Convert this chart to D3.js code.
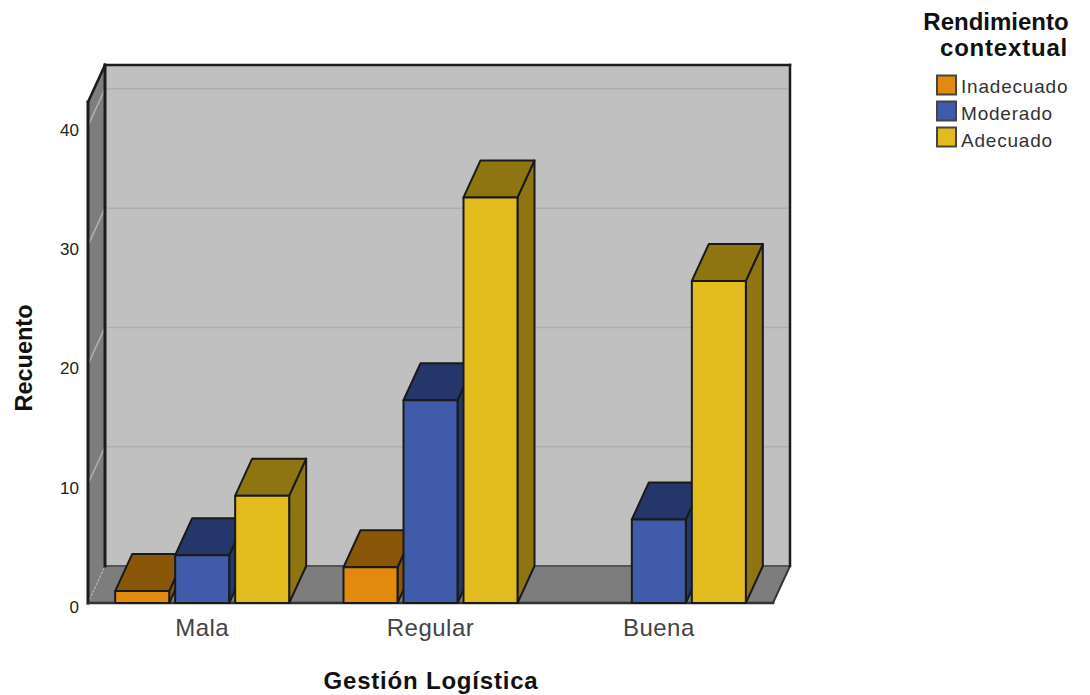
<!DOCTYPE html>
<html>
<head>
<meta charset="utf-8">
<script src="https://cdn.jsdelivr.net/npm/d3@7"></script>
<style>
  body { margin: 0; background: #fff; }
  text { font-family: "Liberation Sans", Arial, sans-serif; }
</style>
</head>
<body>
<svg id="chart" width="1090" height="695"></svg>
<script>
const categories = ["Mala", "Regular", "Buena"];
const seriesNames = ["Inadecuado", "Moderado", "Adecuado"];
const inadecuado = [1, 3, 0];
const moderado = [4, 17, 7];
const adecuado = [9, 34, 27];
const yTicks = [0, 10, 20, 30, 40];
const seriesValues = [inadecuado, moderado, adecuado];

const frontColors = ["#e28a0e", "#3f5ba9", "#e2bb1e"];
const darkColors = ["#8a5608", "#25366b", "#8e7512"];

const svg = d3.select("#chart");

// depth of the 3D box and of each bar
const wallDx = 17, wallDy = -37;
const barDx = 17, barDy = -37;

const x0 = d3.scaleBand().domain(categories).range([88, 773]);
const x1 = d3.scaleBand().domain(seriesNames).range([0, 174]).paddingInner(0.1);
const y = d3.scaleLinear().domain([0, 42]).range([603, 102]);

function poly(points, fill, stroke, width) {
  return svg.append("polygon")
    .attr("points", points.map(p => p.join(",")).join(" "))
    .attr("fill", fill)
    .attr("stroke", stroke || "none")
    .attr("stroke-width", width || 0)
    .attr("stroke-linejoin", "round");
}

const plotLeft = x0.range()[0], plotRight = x0.range()[1];
const plotBottom = y(0), plotTop = y.range()[1];

// walls and floor
poly([[plotLeft + wallDx, plotBottom + wallDy], [plotRight + wallDx, plotBottom + wallDy], [plotRight + wallDx, plotTop + wallDy], [plotLeft + wallDx, plotTop + wallDy]], "#c0c0c0");
poly([[plotLeft, plotBottom], [plotLeft + wallDx, plotBottom + wallDy], [plotLeft + wallDx, plotTop + wallDy], [plotLeft, plotTop]], "#7d7d7d");
poly([[plotLeft, plotBottom], [plotRight, plotBottom], [plotRight + wallDx, plotBottom + wallDy], [plotLeft + wallDx, plotBottom + wallDy]], "#7d7d7d");

// gridlines on the back wall and the left wall
yTicks.filter(t => t > 0).forEach(t => {
  svg.append("line")
    .attr("x1", plotLeft + wallDx).attr("x2", plotRight + wallDx)
    .attr("y1", y(t) + wallDy).attr("y2", y(t) + wallDy)
    .attr("stroke", "#aeaeae").attr("stroke-width", 1.5);
  svg.append("line")
    .attr("x1", plotLeft).attr("x2", plotLeft + wallDx)
    .attr("y1", y(t)).attr("y2", y(t) + wallDy)
    .attr("stroke", "#b0b0b0").attr("stroke-width", 1.5);
});
svg.append("line")
  .attr("x1", plotLeft).attr("x2", plotLeft + wallDx)
  .attr("y1", plotBottom).attr("y2", plotBottom + wallDy)
  .attr("stroke", "#b5b5b5").attr("stroke-width", 1.2).attr("stroke-dasharray", "2,2");

// box outline
function edgeLine(xa, ya, xb, yb, w, color) {
  svg.append("line")
    .attr("x1", xa).attr("y1", ya).attr("x2", xb).attr("y2", yb)
    .attr("stroke", color || "#1c1c1c").attr("stroke-width", w || 2.5).attr("stroke-linecap", "square");
}
edgeLine(plotLeft + wallDx, plotBottom + wallDy, plotRight + wallDx, plotBottom + wallDy, 2, "#555");
edgeLine(plotRight, plotBottom, plotRight + wallDx, plotBottom + wallDy, 2, "#333");
edgeLine(plotLeft + wallDx, plotTop + wallDy, plotRight + wallDx, plotTop + wallDy);
edgeLine(plotRight + wallDx, plotTop + wallDy, plotRight + wallDx, plotBottom + wallDy);
edgeLine(plotLeft + wallDx, plotTop + wallDy, plotLeft + wallDx, plotBottom + wallDy, 3);
edgeLine(plotLeft, plotTop, plotLeft + wallDx, plotTop + wallDy);
edgeLine(plotLeft, plotTop, plotLeft, plotBottom, 3);
edgeLine(plotLeft, plotBottom, plotRight, plotBottom, 2.5, "#333");

// bars, left to right so each one overlaps the previous
categories.forEach((cat, c) => {
  seriesNames.forEach((name, s) => {
    const v = seriesValues[s][c];
    if (v === 0) return;
    const xa = x0(cat) + (x0.bandwidth() - x1.range()[1]) / 2 + x1(name);
    const xb = xa + x1.bandwidth();
    const ya = y(v), yb = y(0);
    poly([[xb, ya], [xb + barDx, ya + barDy], [xb + barDx, yb + barDy], [xb, yb]], darkColors[s], "#1a1a1a", 2);
    poly([[xa, ya], [xa + barDx, ya + barDy], [xb + barDx, ya + barDy], [xb, ya]], darkColors[s], "#1a1a1a", 2);
    poly([[xa, ya], [xb, ya], [xb, yb], [xa, yb]], frontColors[s], "#1a1a1a", 2);
  });
});

// value axis
const yAxis = svg.append("g")
  .attr("transform", `translate(${plotLeft},0)`)
  .call(d3.axisLeft(y).tickValues(yTicks).tickSize(0).tickPadding(9));
yAxis.select(".domain").remove();
yAxis.selectAll("text").attr("font-size", 17).attr("fill", "#222").attr("dy", "0.55em")
  .style("font-family", '"Liberation Sans", Arial, sans-serif');

// category axis
const xAxis = svg.append("g")
  .attr("transform", `translate(0,${plotBottom})`)
  .call(d3.axisBottom(x0).tickSize(0).tickPadding(16));
xAxis.select(".domain").remove();
xAxis.selectAll("text").attr("font-size", 24).attr("letter-spacing", 0.5).attr("fill", "#444")
  .style("font-family", '"Liberation Sans", Arial, sans-serif');

// axis titles
svg.append("text").attr("x", 431).attr("y", 689).attr("text-anchor", "middle")
  .attr("font-size", 24).attr("font-weight", "bold").attr("letter-spacing", 0.8).attr("fill", "#111")
  .text("Gestión Logística");
svg.append("text").attr("transform", "translate(32,358) rotate(-90)").attr("text-anchor", "middle")
  .attr("font-size", 23.5).attr("font-weight", "bold").attr("fill", "#111")
  .text("Recuento");

// legend
svg.append("text").attr("x", 996).attr("y", 30).attr("text-anchor", "middle")
  .attr("font-size", 24).attr("font-weight", "bold").attr("fill", "#111").text("Rendimiento");
svg.append("text").attr("x", 1004).attr("y", 56).attr("text-anchor", "middle")
  .attr("font-size", 24).attr("font-weight", "bold").attr("letter-spacing", 0.8).attr("fill", "#111").text("contextual");

const legendY = d3.scalePoint().domain(seriesNames).range([85, 137]);
const legendTextY = d3.scalePoint().domain(seriesNames).range([93, 147]);
seriesNames.forEach((name, s) => {
  svg.append("rect")
    .attr("x", 937).attr("y", legendY(name) - 9.5).attr("width", 19).attr("height", 19)
    .attr("fill", frontColors[s]).attr("stroke", "#444").attr("stroke-width", 2);
  svg.append("text")
    .attr("x", 961).attr("y", legendTextY(name))
    .attr("font-size", 19).attr("letter-spacing", 0.8).attr("fill", "#333")
    .text(name);
});
</script>
</body>
</html>
